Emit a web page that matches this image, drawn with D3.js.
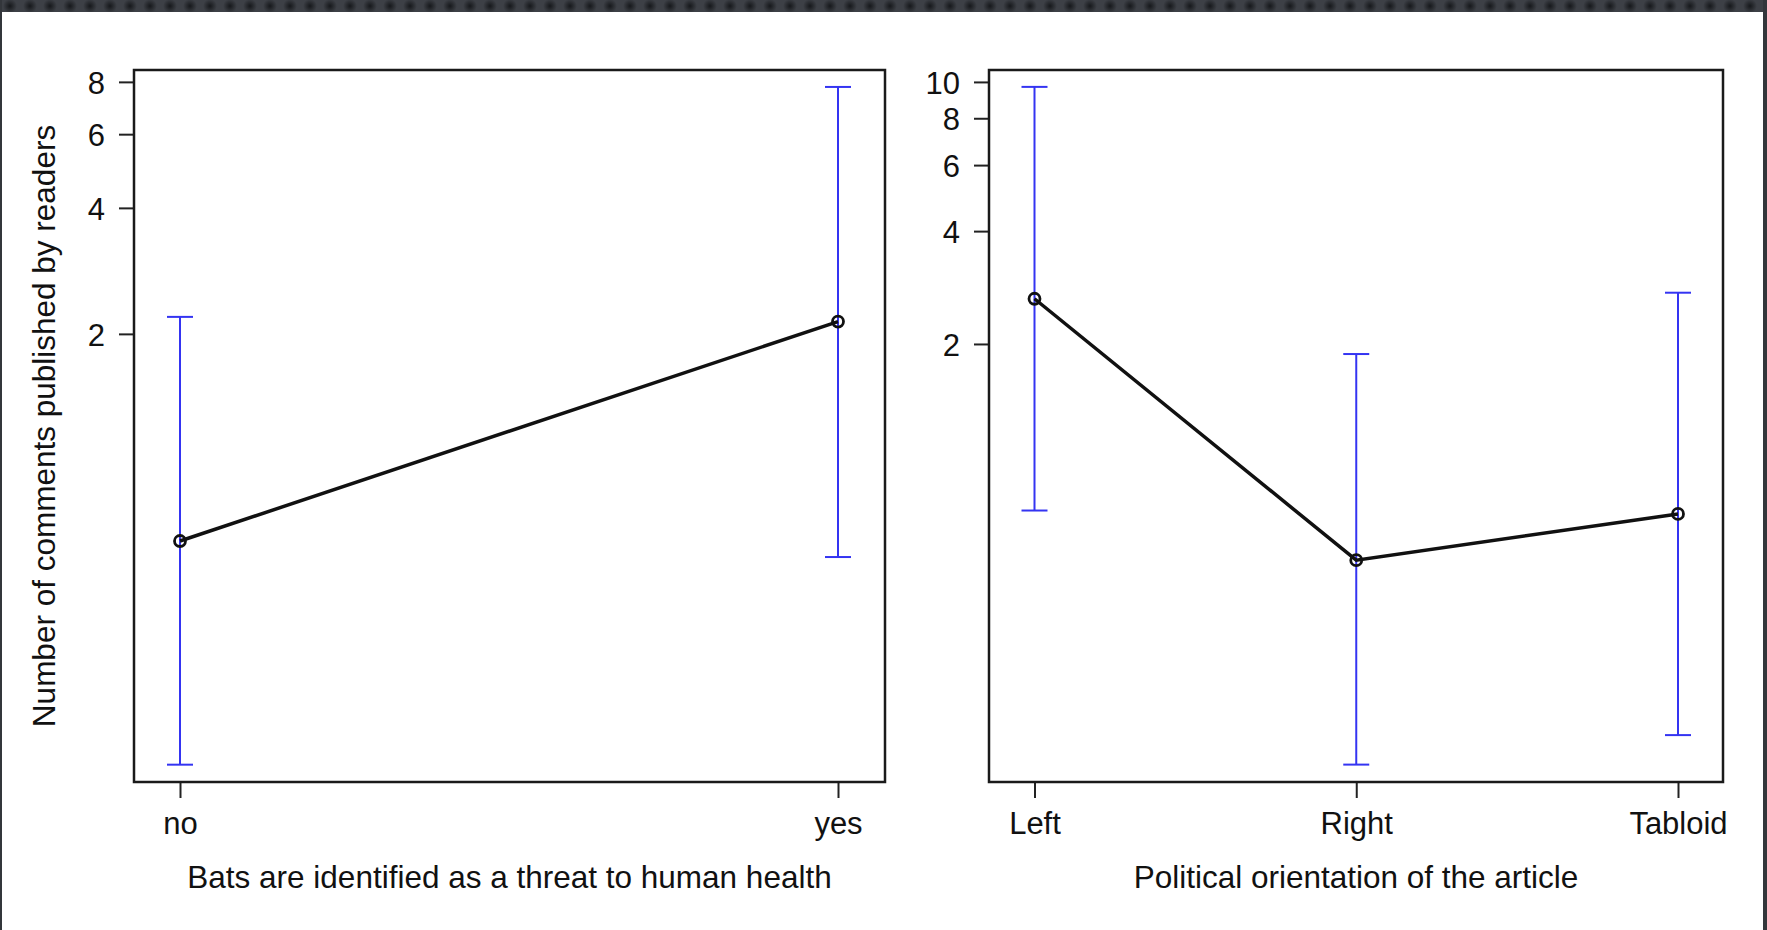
<!DOCTYPE html>
<html>
<head>
<meta charset="utf-8">
<script src="https://cdn.jsdelivr.net/npm/d3@7"></script>
<style>
    body { margin: 0; background: #ffffff; overflow: hidden; }
    svg { display: block; }
    text { font-family: "Liberation Sans", Arial, sans-serif; fill: #111; }
</style>
</head>
<body>
<script>
// left panel: bats as a threat
var threatCategories = ["no", "yes"];
var threatFit = [0.64, 2.14];
var threatLower = [0.187, 0.586];
var threatUpper = [2.196, 7.78];
var threatTicks = [2, 4, 6, 8];
// right panel: political orientation
var orientationCategories = ["Left", "Right", "Tabloid"];
var orientationFit = [2.64, 0.53, 0.704];
var orientationLower = [0.719, 0.151, 0.181];
var orientationUpper = [9.70, 1.88, 2.74];
var orientationTicks = [2, 4, 6, 8, 10];

var yTitle = "Number of comments published by readers";
var threatTitle = "Bats are identified as a threat to human health";
var orientationTitle = "Political orientation of the article";

var width = 1767, height = 930;
var svg = d3.select("body").append("svg").attr("width", width).attr("height", height);

drawFrame();
makePanel({
    categories: threatCategories, fit: threatFit, lower: threatLower, upper: threatUpper,
    ticks: threatTicks, title: threatTitle,
    box: { left: 134, right: 885, top: 70, bottom: 782 },
    xRange: [180, 838], yDomain: [0.170, 8.54]
});
makePanel({
    categories: orientationCategories, fit: orientationFit, lower: orientationLower, upper: orientationUpper,
    ticks: orientationTicks, title: orientationTitle,
    box: { left: 989, right: 1723, top: 70, bottom: 782 },
    xRange: [1034.5, 1678], yDomain: [0.1357, 10.76]
});

svg.append("text")
    .attr("transform", "translate(55,426) rotate(-90)")
    .attr("text-anchor", "middle")
    .style("font-size", "31.5px")
    .text(yTitle);

function drawFrame() {
    var defs = svg.append("defs");
    var grad = defs.append("radialGradient").attr("id", "dot");
    grad.append("stop").attr("offset", "0%").attr("stop-color", "#16181b");
    grad.append("stop").attr("offset", "100%").attr("stop-color", "#3d4046");
    var pattern = defs.append("pattern").attr("id", "dots")
        .attr("width", 20).attr("height", 12).attr("patternUnits", "userSpaceOnUse");
    pattern.append("rect").attr("width", 20).attr("height", 12).attr("fill", "#3d4046");
    pattern.append("circle").attr("cx", 10).attr("cy", 6).attr("r", 7).attr("fill", "url(#dot)");
    svg.append("rect").attr("x", 0).attr("y", 0).attr("width", width).attr("height", 12).attr("fill", "url(#dots)");
    svg.append("rect").attr("x", 0).attr("y", 0).attr("width", 2).attr("height", height).attr("fill", "#33363b");
    svg.append("rect").attr("x", width - 4).attr("y", 0).attr("width", 4).attr("height", height).attr("fill", "#33363b");
}

function makePanel(p) {
    var box = p.box;
    var x = d3.scaleLinear().domain([1, p.categories.length]).range(p.xRange);
    var y = d3.scaleLog().domain(p.yDomain).range([box.bottom, box.top]);
    var g = svg.append("g");

    var yAxis = g.append("g")
        .attr("transform", "translate(" + box.left + ",0)")
        .call(d3.axisLeft(y).tickValues(p.ticks).tickFormat(d3.format("d")).tickSize(15).tickPadding(14));
    var xAxis = g.append("g")
        .attr("transform", "translate(0," + box.bottom + ")")
        .call(d3.axisBottom(x).tickValues(d3.range(1, p.categories.length + 1))
            .tickFormat(function (d) { return p.categories[d - 1]; }).tickSize(16).tickPadding(14));
    for (var axis of [yAxis, xAxis]) {
        axis.select(".domain").remove();
        axis.selectAll(".tick line").attr("stroke", "#222").attr("stroke-width", 2);
        axis.selectAll(".tick text").style("font-size", "31px").attr("fill", "#111");
    }
    yAxis.selectAll(".tick text").attr("dy", "0.36em");
    xAxis.selectAll(".tick text").attr("dy", "0.72em");

    g.append("rect")
        .attr("x", box.left).attr("y", box.top)
        .attr("width", box.right - box.left).attr("height", box.bottom - box.top)
        .attr("fill", "none").attr("stroke", "#1a1a1a").attr("stroke-width", 2.5);

    var idx = d3.range(p.categories.length);
    var bars = g.append("g").attr("stroke", "#3434f2").attr("stroke-width", 2);
    bars.selectAll(".stem").data(idx).join("line")
        .attr("x1", i => x(i + 1)).attr("x2", i => x(i + 1))
        .attr("y1", i => y(p.lower[i])).attr("y2", i => y(p.upper[i]));
    bars.selectAll(".capTop").data(idx).join("line")
        .attr("x1", i => x(i + 1) - 13).attr("x2", i => x(i + 1) + 13)
        .attr("y1", i => y(p.upper[i])).attr("y2", i => y(p.upper[i]));
    bars.selectAll(".capBottom").data(idx).join("line")
        .attr("x1", i => x(i + 1) - 13).attr("x2", i => x(i + 1) + 13)
        .attr("y1", i => y(p.lower[i])).attr("y2", i => y(p.lower[i]));

    g.append("path")
        .datum(idx)
        .attr("fill", "none").attr("stroke", "#111").attr("stroke-width", 3.5)
        .attr("d", d3.line().x(i => x(i + 1)).y(i => y(p.fit[i])));
    g.selectAll(".pt").data(idx).join("circle")
        .attr("cx", i => x(i + 1)).attr("cy", i => y(p.fit[i])).attr("r", 5.5)
        .attr("fill", "none").attr("stroke", "#111").attr("stroke-width", 2.8);

    g.append("text")
        .attr("x", (box.left + box.right) / 2).attr("y", 888)
        .attr("text-anchor", "middle")
        .style("font-size", "31.5px")
        .text(p.title);
}
</script>
</body>
</html>
